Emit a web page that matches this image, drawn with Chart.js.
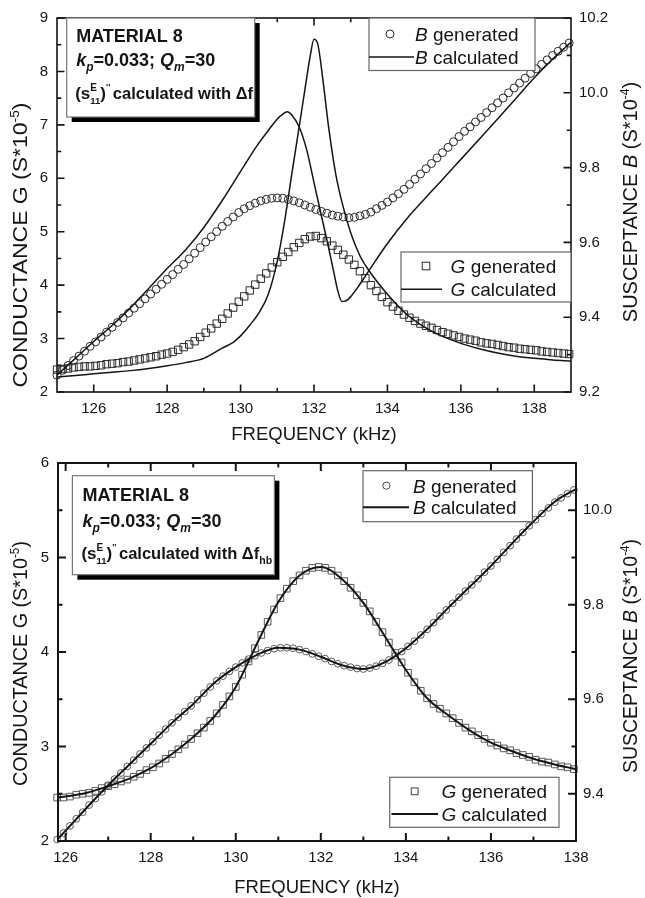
<!DOCTYPE html>
<html>
<head>
<meta charset="utf-8">
<script src="https://cdn.jsdelivr.net/npm/chart.js@4.4.1/dist/chart.umd.min.js"></script>
<style>
  html, body { margin: 0; padding: 0; background: #fff; }
  #wrap { position: relative; width: 645px; height: 898px; }
  canvas { position: absolute; left: 0; }
  #topChart { top: 0; }
  #botChart { top: 445px; }
</style>
</head>
<body>
<div id="wrap">
  <canvas id="topChart" width="645" height="445"></canvas>
  <canvas id="botChart" width="645" height="453"></canvas>
</div>
<script>
// ---------- top panel (calculated with delta f) ----------
const topFreq = [125.00,125.15,125.30,125.45,125.60,125.75,125.90,126.05,126.20,126.35,
  126.50,126.65,126.80,126.95,127.10,127.25,127.40,127.55,127.70,127.85,
  128.00,128.15,128.30,128.45,128.60,128.75,128.90,129.05,129.20,129.35,
  129.50,129.65,129.80,129.95,130.10,130.25,130.40,130.55,130.70,130.85,
  131.00,131.15,131.30,131.45,131.60,131.75,131.90,132.05,132.20,132.35,
  132.50,132.65,132.80,132.95,133.10,133.25,133.40,133.55,133.70,133.85,
  134.00,134.15,134.30,134.45,134.60,134.75,134.90,135.05,135.20,135.35,
  135.50,135.65,135.80,135.95,136.10,136.25,136.40,136.55,136.70,136.85,
  137.00,137.15,137.30,137.45,137.60,137.75,137.90,138.05,138.20,138.35,
  138.50,138.65,138.80,138.95];
const topBgen = [9.245,9.258,9.271,9.284,9.296,9.309,9.322,9.334,9.347,9.360,
  9.373,9.386,9.398,9.411,9.424,9.436,9.449,9.462,9.475,9.488,
  9.501,9.514,9.528,9.541,9.556,9.571,9.586,9.601,9.615,9.629,
  9.643,9.656,9.668,9.680,9.690,9.698,9.705,9.711,9.715,9.718,
  9.719,9.718,9.715,9.711,9.706,9.700,9.694,9.688,9.683,9.678,
  9.673,9.670,9.668,9.666,9.667,9.671,9.675,9.681,9.690,9.699,
  9.708,9.719,9.730,9.742,9.755,9.769,9.783,9.797,9.811,9.826,
  9.840,9.854,9.869,9.883,9.897,9.909,9.922,9.934,9.947,9.960,
  9.973,9.986,10.000,10.013,10.026,10.039,10.052,10.064,10.076,10.088,
  10.100,10.111,10.122,10.133];
const topGgen = [2.42,2.43,2.44,2.46,2.47,2.48,2.48,2.49,2.50,2.52,
  2.53,2.54,2.56,2.57,2.59,2.61,2.63,2.65,2.67,2.70,
  2.72,2.75,2.79,2.84,2.89,2.95,3.03,3.11,3.19,3.28,
  3.37,3.47,3.58,3.69,3.79,3.90,4.01,4.12,4.22,4.33,
  4.43,4.53,4.62,4.71,4.79,4.86,4.91,4.92,4.88,4.82,
  4.74,4.66,4.57,4.48,4.38,4.26,4.13,4.00,3.89,3.78,
  3.68,3.60,3.52,3.45,3.39,3.33,3.28,3.24,3.20,3.16,
  3.12,3.09,3.06,3.03,3.00,2.98,2.96,2.93,2.91,2.90,
  2.88,2.86,2.84,2.83,2.81,2.80,2.79,2.78,2.76,2.75,
  2.74,2.73,2.72,2.71];
const topBcalcFreq = [125,125.5,126,126.5,127,127.5,128,128.5,129,129.5,
  130,130.5,130.8,131,131.15,131.27,131.4,131.6,131.8,132,
  132.2,132.4,132.55,132.65,132.76,132.85,133,133.2,133.5,134,
  134.5,135,135.5,136,136.5,137,137.5,138,138.5,139];
const topBcalc = [9.245,9.290,9.335,9.378,9.425,9.477,9.530,9.580,9.640,9.712,
  9.790,9.866,9.905,9.930,9.943,9.949,9.940,9.908,9.848,9.760,
  9.672,9.585,9.515,9.470,9.442,9.443,9.455,9.481,9.525,9.597,
  9.660,9.715,9.768,9.822,9.876,9.930,9.985,10.040,10.090,10.135];
const topGcalcFreq = [125,125.5,126,126.5,127,127.5,128,128.5,129,129.5,
  129.8,130,130.25,130.5,130.75,131,131.2,131.4,131.6,131.75,
  131.9,132,132.1,132.25,132.4,132.6,132.8,133,133.25,133.5,
  134,134.5,135,135.5,136,136.5,137,137.5,138,138.5,139];
const topGcalc = [2.28,2.31,2.34,2.37,2.40,2.44,2.49,2.55,2.63,2.82,
  2.93,3.05,3.25,3.48,3.82,4.45,5.20,6.10,6.98,7.65,
  8.30,8.60,8.52,7.80,6.95,6.05,5.45,4.98,4.55,4.27,
  3.83,3.47,3.22,3.04,2.91,2.81,2.73,2.67,2.63,2.60,2.58];
const topXTicks = [126,128,130,132,134,136,138];
const topXMinor = [127,129,131,133,135,137];
const topGTicks = [2,3,4,5,6,7,8,9];
const topGMinor = [2.5,3.5,4.5,5.5,6.5,7.5,8.5];
const topBTicks = [9.2,9.4,9.6,9.8,10.0,10.2];
const topBMinor = [9.3,9.5,9.7,9.9,10.1];

// ---------- bottom panel (calculated with delta f_hb) ----------
const botFreq = [125.80,125.95,126.10,126.25,126.40,126.55,126.70,126.85,127.00,127.15,
  127.30,127.45,127.60,127.75,127.90,128.05,128.20,128.35,128.50,128.65,
  128.80,128.95,129.10,129.25,129.40,129.55,129.70,129.85,130.00,130.15,
  130.30,130.45,130.60,130.75,130.90,131.05,131.20,131.35,131.50,131.65,
  131.80,131.95,132.10,132.25,132.40,132.55,132.70,132.85,133.00,133.15,
  133.30,133.45,133.60,133.75,133.90,134.05,134.20,134.35,134.50,134.65,
  134.80,134.95,135.10,135.25,135.40,135.55,135.70,135.85,136.00,136.15,
  136.30,136.45,136.60,136.75,136.90,137.05,137.20,137.35,137.50,137.65,
  137.80,137.95];
const botBgen = [9.303,9.317,9.332,9.347,9.361,9.376,9.390,9.404,9.418,9.431,
  9.444,9.458,9.471,9.484,9.497,9.510,9.524,9.537,9.550,9.562,
  9.574,9.586,9.599,9.613,9.626,9.639,9.649,9.659,9.668,9.677,
  9.685,9.692,9.698,9.703,9.707,9.709,9.709,9.708,9.705,9.701,
  9.696,9.691,9.686,9.680,9.675,9.671,9.668,9.665,9.664,9.666,
  9.670,9.676,9.683,9.692,9.701,9.712,9.723,9.736,9.748,9.762,
  9.776,9.789,9.803,9.816,9.829,9.842,9.855,9.869,9.882,9.896,
  9.911,9.925,9.939,9.953,9.967,9.980,9.993,10.005,10.017,10.026,
  10.035,10.043];
const botGgen = [2.46,2.46,2.47,2.49,2.50,2.51,2.53,2.56,2.58,2.60,
  2.63,2.65,2.68,2.71,2.75,2.78,2.82,2.87,2.92,2.97,
  3.02,3.08,3.14,3.20,3.27,3.35,3.44,3.53,3.63,3.76,
  3.90,4.04,4.18,4.32,4.45,4.57,4.67,4.75,4.81,4.86,
  4.89,4.90,4.89,4.86,4.81,4.75,4.68,4.60,4.52,4.43,
  4.32,4.21,4.10,3.99,3.89,3.78,3.68,3.59,3.51,3.45,
  3.40,3.35,3.30,3.25,3.20,3.16,3.12,3.08,3.04,3.01,
  2.98,2.96,2.93,2.91,2.89,2.86,2.84,2.83,2.81,2.79,
  2.78,2.76];
const botCalcFreq = [125.8,126,126.5,127,127.5,128,128.5,129,129.5,130,
  130.5,131,131.5,132,132.5,133,133.5,134,134.5,135,
  135.5,136,136.5,137,137.5,138];
const botBcalc = [9.303,9.322,9.371,9.418,9.462,9.506,9.550,9.590,9.635,9.668,
  9.694,9.709,9.705,9.690,9.672,9.664,9.678,9.708,9.748,9.794,
  9.838,9.882,9.930,9.976,10.018,10.045];
const botGcalc = [2.46,2.47,2.51,2.58,2.66,2.77,2.92,3.10,3.32,3.63,
  4.09,4.53,4.81,4.90,4.77,4.52,4.17,3.81,3.51,3.33,
  3.17,3.04,2.95,2.87,2.81,2.76];
const botXTicks = [126,128,130,132,134,136,138];
const botXMinor = [127,129,131,133,135,137];
const botGTicks = [2,3,4,5,6];
const botGMinor = [2.5,3.5,4.5,5.5];
const botBTicks = [9.4,9.6,9.8,10.0];
const botBMinor = [9.5,9.7,9.9];

const FAM = "'Liberation Sans', Arial, sans-serif";
const INK = '#151515';
function fnt(size, style) { return (style ? style + ' ' : '') + size + 'px ' + FAM; }
function pts(xs, ys) { return xs.map((x, i) => ({ x: x, y: ys[i] })); }

// rich text: segments {t, f, dy, dx, over}
function richRun(ctx, segs, x, y, draw) {
  let cx = x, prevStart = x, prevW = 0;
  segs.forEach(s => {
    ctx.font = s.f;
    const w = ctx.measureText(s.t).width;
    const dy = s.dy || 0;
    cx += s.dx || 0;
    if (s.over) {
      if (draw) ctx.fillText(s.t, prevStart, y + dy);
      prevW = Math.max(prevW, w);
      cx = prevStart + prevW;
    } else {
      if (draw) ctx.fillText(s.t, cx, y + dy);
      prevStart = cx; prevW = w; cx += w;
    }
  });
  return cx - x;
}
function drawRich(ctx, segs, x, y) { return richRun(ctx, segs, x, y, true); }
function richWidth(ctx, segs) { return richRun(ctx, segs, 0, 0, false); }

function drawTitleV(ctx, cx, cy, segs, len) {
  ctx.save();
  const w = richWidth(ctx, segs);
  ctx.translate(cx, cy);
  ctx.rotate(-Math.PI / 2);
  ctx.scale(len ? len / w : 1, 1);
  ctx.fillStyle = INK;
  ctx.textAlign = 'left';
  ctx.textBaseline = 'alphabetic';
  drawRich(ctx, segs, -w / 2, 7);
  ctx.restore();
}

function drawLegend(ctx, L) {
  ctx.save();
  ctx.fillStyle = '#fff';
  ctx.fillRect(L.x, L.y, L.w, L.h);
  ctx.strokeStyle = '#666';
  ctx.lineWidth = 1.2;
  ctx.strokeRect(L.x, L.y, L.w, L.h);
  ctx.strokeStyle = L.markColor;
  ctx.lineWidth = 1;
  if (L.sym === 'circle') {
    ctx.beginPath();
    ctx.arc(L.x + L.symX, L.y + L.row1, L.symR, 0, Math.PI * 2);
    ctx.stroke();
  } else {
    ctx.strokeRect(L.x + L.symX - L.symR, L.y + L.row1 - L.symR, 2 * L.symR, 2 * L.symR);
  }
  ctx.strokeStyle = INK;
  ctx.lineWidth = L.lineW;
  ctx.beginPath();
  ctx.moveTo(L.x + L.lineX0, L.y + L.row2);
  ctx.lineTo(L.x + L.lineX1, L.y + L.row2);
  ctx.stroke();
  ctx.fillStyle = INK;
  ctx.textBaseline = 'alphabetic';
  ctx.textAlign = 'left';
  const off = 6.8;
  drawRich(ctx, [{ t: L.letter, f: fnt(19, 'italic') }, { t: ' generated', f: fnt(19) }], L.x + L.textX, L.y + L.row1 + off);
  drawRich(ctx, [{ t: L.letter, f: fnt(19, 'italic') }, { t: ' calculated', f: fnt(19) }], L.x + L.textX, L.y + L.row2 + off);
  ctx.restore();
}

function drawNote(ctx, N) {
  ctx.save();
  ctx.fillStyle = '#000';
  ctx.fillRect(N.x + 5, N.y + 5, N.w, N.h);
  ctx.fillStyle = '#fff';
  ctx.fillRect(N.x, N.y, N.w, N.h);
  ctx.strokeStyle = '#777';
  ctx.lineWidth = 1.2;
  ctx.strokeRect(N.x, N.y, N.w, N.h);
  ctx.fillStyle = INK;
  ctx.textAlign = 'left';
  ctx.textBaseline = 'alphabetic';
  drawRich(ctx, [{ t: 'MATERIAL 8', f: fnt(18, 'bold') }], N.x + N.tx, N.y + N.b1);
  drawRich(ctx, [
    { t: 'k', f: fnt(18, 'italic bold') },
    { t: 'p', f: fnt(12, 'italic bold'), dy: 5 },
    { t: '=0.033; ', f: fnt(18, 'bold') },
    { t: 'Q', f: fnt(18, 'italic bold') },
    { t: 'm', f: fnt(12, 'italic bold'), dy: 5 },
    { t: '=30', f: fnt(18, 'bold') }
  ], N.x + N.tx, N.y + N.b2);
  const l3 = [
    { t: '(s', f: fnt(17, 'bold') },
    { t: 'E', f: fnt(10, 'bold'), dy: -8 },
    { t: '11', f: fnt(9.5, 'bold'), dy: 5, over: true },
    { t: ')', f: fnt(17, 'bold') },
    { t: "''", f: fnt(9, 'bold'), dy: -9 },
    { t: 'calculated with \u0394f', f: fnt(16.5, 'bold'), dx: 2.5 }
  ];
  if (N.sub) l3.push({ t: N.sub, f: fnt(10.5, 'bold'), dy: 5 });
  drawRich(ctx, l3, N.x + N.tx - 1, N.y + N.b3);
  ctx.restore();
}

function framePlugin(p) {
  return {
    id: 'frame_' + p.id,
    afterDraw(chart) {
      const ctx = chart.ctx, a = chart.chartArea, sc = chart.scales;
      ctx.save();
      ctx.strokeStyle = INK;
      ctx.lineWidth = p.frameW;
      ctx.strokeRect(a.left, a.top, a.right - a.left, a.bottom - a.top);
      ctx.beginPath();
      const xt = (vals, len) => vals.forEach(v => {
        const px = sc.x.getPixelForValue(v);
        ctx.moveTo(px, a.bottom); ctx.lineTo(px, a.bottom - len);
        ctx.moveTo(px, a.top); ctx.lineTo(px, a.top + len);
      });
      const yl = (vals, len) => vals.forEach(v => {
        const py = sc.yG.getPixelForValue(v);
        ctx.moveTo(a.left, py); ctx.lineTo(a.left + len, py);
      });
      const yr = (vals, len) => vals.forEach(v => {
        const py = sc.yB.getPixelForValue(v);
        ctx.moveTo(a.right, py); ctx.lineTo(a.right - len, py);
      });
      xt(p.xTicks, p.major); xt(p.xMinor, p.minor);
      yl(p.gTicks, p.major); yl(p.gMinor, p.minor);
      yr(p.bTicks, p.major); yr(p.bMinor, p.minor);
      ctx.stroke();
      ctx.fillStyle = INK;
      ctx.font = fnt(18.5);
      ctx.textAlign = 'center';
      ctx.textBaseline = 'alphabetic';
      ctx.fillText('FREQUENCY (kHz)', (a.left + a.right) / 2, a.bottom + p.xTitleDy + 6.6);
      drawTitleV(ctx, 20, a.top + p.gTitleCy, [
        { t: 'CONDUCTANCE G (S*10', f: fnt(p.titleF) },
        { t: '-5', f: fnt(12), dy: -8 },
        { t: ')', f: fnt(p.titleF) }
      ], p.gTitleLen);
      drawTitleV(ctx, 630, a.top + p.bTitleCy, [
        { t: 'SUSCEPTANCE ', f: fnt(p.titleF) },
        { t: 'B', f: fnt(p.titleF, 'italic') },
        { t: ' (S*10', f: fnt(p.titleF) },
        { t: '-4', f: fnt(12), dy: -8 },
        { t: ')', f: fnt(p.titleF) }
      ], p.bTitleLen);
      ctx.restore();
      p.notes(ctx, a);
    }
  };
}

function buildChart(p) {
  const tickFont = { family: FAM, size: 15 };
  const marker = (data, style, r, yAxis) => ({
    data: data, yAxisID: yAxis, showLine: false, order: 2, clip: false,
    pointStyle: style, pointRadius: r, pointHoverRadius: r,
    pointBorderColor: p.markColor, pointBackgroundColor: 'rgba(0,0,0,0)', pointBorderWidth: 1
  });
  const curve = (data, yAxis) => ({
    data: data, yAxisID: yAxis, order: 1, pointRadius: 0, borderColor: INK,
    borderWidth: p.lineW, cubicInterpolationMode: 'monotone', fill: false
  });
  return new Chart(document.getElementById(p.id), {
    type: 'line',
    data: {
      datasets: [
        marker(pts(p.freq, p.bGen), 'circle', p.circR, 'yB'),
        marker(pts(p.freq, p.gGen), 'rect', p.rectR, 'yG'),
        curve(pts(p.bCalcFreq, p.bCalc), 'yB'),
        curve(pts(p.gCalcFreq, p.gCalc), 'yG')
      ]
    },
    options: {
      responsive: false,
      animation: false,
      devicePixelRatio: 1,
      layout: { padding: { top: p.padTop, left: 0, right: 0, bottom: 0 } },
      plugins: { legend: { display: false }, tooltip: { enabled: false } },
      scales: {
        x: {
          type: 'linear', position: 'bottom', min: p.xMin, max: p.xMax,
          afterBuildTicks: s => { s.ticks = p.xTicks.map(v => ({ value: v })); },
          afterFit: s => { s.height = p.xAxisH; },
          grid: { display: false, drawTicks: false }, border: { display: false },
          ticks: { font: tickFont, color: INK, padding: p.xPad, maxRotation: 0, autoSkip: false, callback: v => String(v) }
        },
        yG: {
          type: 'linear', position: 'left', min: p.gMin, max: p.gMax,
          afterBuildTicks: s => { s.ticks = p.gTicks.map(v => ({ value: v })); },
          afterFit: s => { s.width = p.leftW; },
          grid: { display: false, drawTicks: false }, border: { display: false },
          ticks: { font: tickFont, color: INK, padding: 9, autoSkip: false, callback: v => String(v) }
        },
        yB: {
          type: 'linear', position: 'right', min: p.bMin, max: p.bMax,
          afterBuildTicks: s => { s.ticks = p.bTicks.map(v => ({ value: v })); },
          afterFit: s => { s.width = p.rightW; },
          grid: { display: false, drawTicks: false }, border: { display: false },
          ticks: { font: tickFont, color: INK, padding: p.rPad, autoSkip: false, callback: v => v.toFixed(1) }
        }
      }
    },
    plugins: [framePlugin(p)]
  });
}

buildChart({
  id: 'topChart',
  freq: topFreq, bGen: topBgen, gGen: topGgen,
  bCalcFreq: topBcalcFreq, bCalc: topBcalc, gCalcFreq: topGcalcFreq, gCalc: topGcalc,
  xMin: 125, xMax: 139, gMin: 2, gMax: 9, bMin: 9.2, bMax: 10.2,
  xTicks: topXTicks, xMinor: topXMinor, gTicks: topGTicks, gMinor: topGMinor, bTicks: topBTicks, bMinor: topBMinor,
  padTop: 16, leftW: 57, rightW: 74, xAxisH: 53, xPad: 8, rPad: 8,
  circR: 4, rectR: 5.2, markColor: '#2a2a2a', lineW: 1.5, frameW: 1.6, major: 7.5, minor: 4.3,
  xTitleDy: 41, titleF: 20, gTitleCy: 227, gTitleLen: 285, bTitleCy: 184, bTitleLen: 0,
  notes: (ctx, a) => {
    drawNote(ctx, { x: a.left + 9.7, y: a.top, w: 188, h: 99, tx: 9.5, b1: 23.5, b2: 48, b3: 81, sub: '' });
    drawLegend(ctx, { x: a.left + 312, y: a.top, w: 166, h: 52.5, sym: 'circle', symX: 21, symR: 4, row1: 16, row2: 39,
      textX: 46, lineX0: 0, lineX1: 45, letter: 'B', lineW: 1.5, markColor: '#2a2a2a' });
    drawLegend(ctx, { x: a.right - 170, y: a.top + 234, w: 170, h: 50, sym: 'rect', symR: 3.8, symX: 25, row1: 14, row2: 37.3,
      textX: 49.6, lineX0: 0, lineX1: 41, letter: 'G', lineW: 1.5, markColor: '#2a2a2a' });
  }
});

buildChart({
  id: 'botChart',
  freq: botFreq, bGen: botBgen, gGen: botGgen,
  bCalcFreq: botCalcFreq, bCalc: botBcalc, gCalcFreq: botCalcFreq, gCalc: botGcalc,
  xMin: 125.82, xMax: 138, gMin: 2, gMax: 6, bMin: 9.3, bMax: 10.1,
  xTicks: botXTicks, xMinor: botXMinor, gTicks: botGTicks, gMinor: botGMinor, bTicks: botBTicks, bMinor: botBMinor,
  padTop: 14, leftW: 58, rightW: 69, xAxisH: 57, xPad: 8, rPad: 7,
  circR: 3.4, rectR: 4.7, markColor: '#5a5a5a', lineW: 2, frameW: 2, major: 8, minor: 4.5,
  xTitleDy: 45.7, titleF: 20, gTitleCy: 200.5, gTitleLen: 245, bTitleCy: 193, bTitleLen: 234,
  notes: (ctx, a) => {
    drawNote(ctx, { x: a.left + 14.4, y: a.top + 12.7, w: 202, h: 99, tx: 10, b1: 25.6, b2: 51.6, b3: 83.3, sub: 'hb' });
    drawLegend(ctx, { x: a.left + 305, y: a.top + 7.7, w: 169.4, h: 51, sym: 'circle', symX: 23.4, symR: 3.6, row1: 15, row2: 36.6,
      textX: 50, lineX0: 0, lineX1: 46, letter: 'B', lineW: 2, markColor: '#444' });
    drawLegend(ctx, { x: a.left + 331.7, y: a.top + 314.3, w: 169.3, h: 50, sym: 'rect', symR: 3.4, symX: 25, row1: 14, row2: 36.7,
      textX: 51.7, lineX0: 1.7, lineX1: 48.3, letter: 'G', lineW: 2, markColor: '#444' });
  }
});
</script>
</body>
</html>
